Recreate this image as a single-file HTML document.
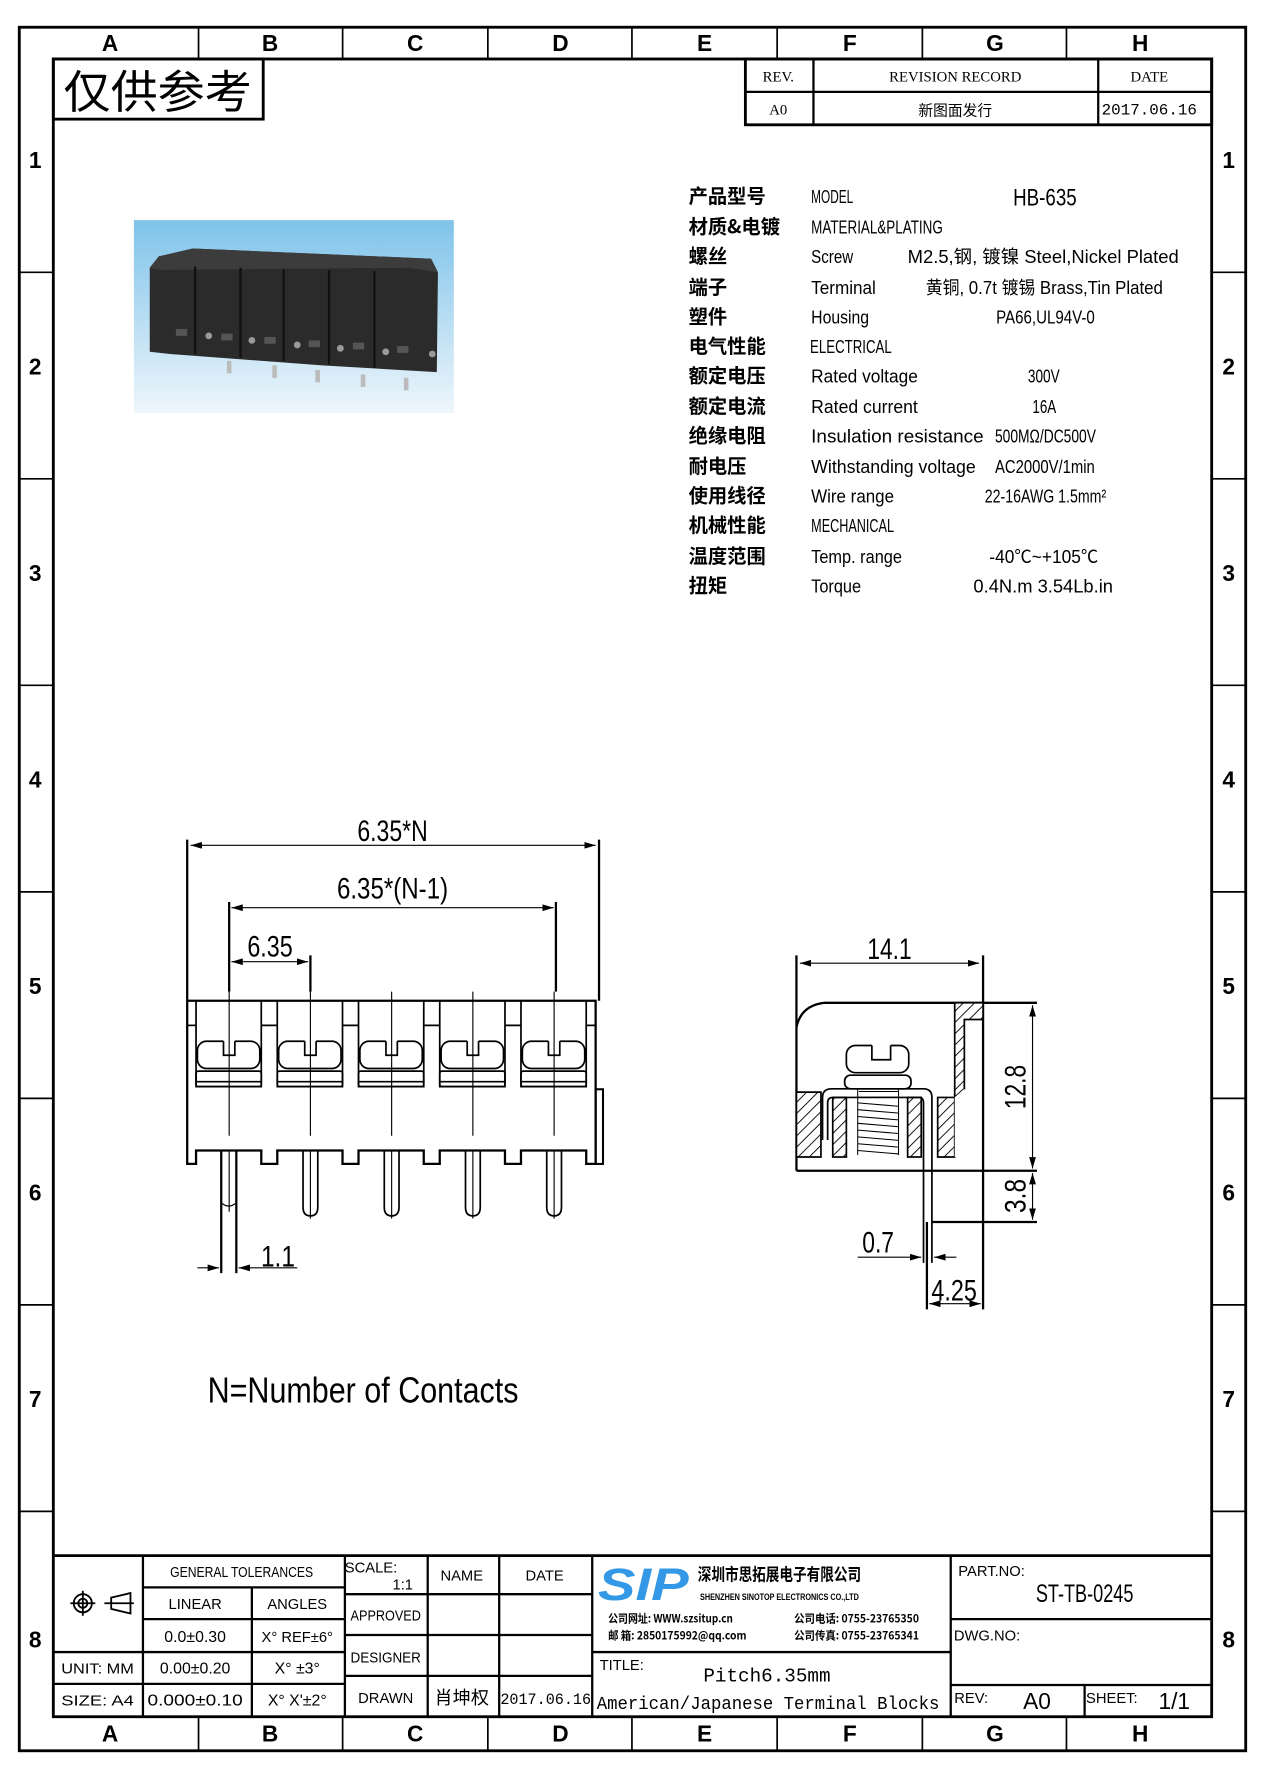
<!DOCTYPE html>
<html><head><meta charset="utf-8"><style>
html,body{margin:0;padding:0;background:#fff;}
svg{display:block;}
text{font-family:"Liberation Sans","Noto Sans CJK SC",sans-serif;fill:#000;}
.c{font-family:"Noto Sans CJK SC","WenQuanYi Zen Hei",sans-serif;font-weight:bold;}
.m{font-family:"Liberation Mono","Noto Sans CJK SC",monospace;}
</style></head><body>
<svg width="1265" height="1778" viewBox="0 0 1115 1567" preserveAspectRatio="none" xmlns="http://www.w3.org/2000/svg">
<defs>
<marker id="a" viewBox="0 0 10 6" refX="10" refY="3" markerWidth="10" markerHeight="6" orient="auto-start-reverse" markerUnits="userSpaceOnUse"><path d="M0,0 L10,3 L0,6z" fill="#000"/></marker>
<pattern id="h" patternUnits="userSpaceOnUse" width="7" height="7" patternTransform="rotate(45)"><rect width="7" height="7" fill="#fff"/><line x1="0" y1="0" x2="0" y2="7" stroke="#000" stroke-width="1.6"/></pattern>
<linearGradient id="bg" x1="0" y1="0" x2="0" y2="1"><stop offset="0" stop-color="#7fc3ea"/><stop offset="1" stop-color="#eef6fb"/></linearGradient>
</defs>
<g fill="none" stroke="#000">
<!-- frame -->
<rect x="17" y="24" width="1081" height="1519" stroke-width="2.5"/>
<rect x="47" y="52" width="1021" height="1461" stroke-width="2.5"/>
<line x1="47" y1="52" x2="1068" y2="52" stroke-width="2"/>
<g stroke-width="1.5">
<line x1="175" y1="24" x2="175" y2="52"/><line x1="302" y1="24" x2="302" y2="52"/><line x1="430" y1="24" x2="430" y2="52"/><line x1="557" y1="24" x2="557" y2="52"/><line x1="685" y1="24" x2="685" y2="52"/><line x1="813" y1="24" x2="813" y2="52"/><line x1="940" y1="24" x2="940" y2="52"/>
<line x1="175" y1="1513" x2="175" y2="1543"/><line x1="302" y1="1513" x2="302" y2="1543"/><line x1="430" y1="1513" x2="430" y2="1543"/><line x1="557" y1="1513" x2="557" y2="1543"/><line x1="685" y1="1513" x2="685" y2="1543"/><line x1="813" y1="1513" x2="813" y2="1543"/><line x1="940" y1="1513" x2="940" y2="1543"/>
<line x1="17" y1="240" x2="47" y2="240"/><line x1="17" y1="422" x2="47" y2="422"/><line x1="17" y1="604" x2="47" y2="604"/><line x1="17" y1="786" x2="47" y2="786"/><line x1="17" y1="968" x2="47" y2="968"/><line x1="17" y1="1150" x2="47" y2="1150"/><line x1="17" y1="1332" x2="47" y2="1332"/>
<line x1="1068" y1="240" x2="1098" y2="240"/><line x1="1068" y1="422" x2="1098" y2="422"/><line x1="1068" y1="604" x2="1098" y2="604"/><line x1="1068" y1="786" x2="1098" y2="786"/><line x1="1068" y1="968" x2="1098" y2="968"/><line x1="1068" y1="1150" x2="1098" y2="1150"/><line x1="1068" y1="1332" x2="1098" y2="1332"/>
</g>
<!-- top-left box -->
<rect x="47" y="52" width="185" height="53" stroke-width="2.5"/>
<!-- revision table -->
<rect x="657" y="52" width="411" height="58" stroke-width="2.5"/>
<line x1="657" y1="81" x2="1068" y2="81" stroke-width="2"/>
<line x1="717" y1="52" x2="717" y2="110" stroke-width="2"/>
<line x1="968" y1="52" x2="968" y2="110" stroke-width="2"/>
</g>
<!-- letters/numbers -->
<g font-size="20" font-weight="bold" text-anchor="middle">
<text x="97" y="45">A</text><text x="238" y="45">B</text><text x="366" y="45">C</text><text x="494" y="45">D</text><text x="621" y="45">E</text><text x="749" y="45">F</text><text x="877" y="45">G</text><text x="1005" y="45">H</text>
<text x="97" y="1535">A</text><text x="238" y="1535">B</text><text x="366" y="1535">C</text><text x="494" y="1535">D</text><text x="621" y="1535">E</text><text x="749" y="1535">F</text><text x="877" y="1535">G</text><text x="1005" y="1535">H</text>
<text x="31" y="148">1</text><text x="31" y="330">2</text><text x="31" y="512">3</text><text x="31" y="694">4</text><text x="31" y="876">5</text><text x="31" y="1058">6</text><text x="31" y="1240">7</text><text x="31" y="1452">8</text>
<text x="1083" y="148">1</text><text x="1083" y="330">2</text><text x="1083" y="512">3</text><text x="1083" y="694">4</text><text x="1083" y="876">5</text><text x="1083" y="1058">6</text><text x="1083" y="1240">7</text><text x="1083" y="1452">8</text>
</g>
<text x="56" y="95" font-size="40" class="c" style="font-weight:normal" textLength="166" lengthAdjust="spacingAndGlyphs">仅供参考</text>
<g font-size="13" text-anchor="middle" font-family="Liberation Serif">
<text x="686" y="72" style="font-family:'Liberation Serif'">REV.</text>
<text x="842" y="72" style="font-family:'Liberation Serif'">REVISION RECORD</text>
<text x="1013" y="72" style="font-family:'Liberation Serif'">DATE</text>
<text x="686" y="101" style="font-family:'Liberation Serif'">A0</text>
<text x="842" y="102" class="c" style="font-weight:normal">新图面发行</text>
<text x="1013" y="101" class="m" font-size="14">2017.06.16</text>
</g>
<!-- photo -->
<rect x="118" y="194" width="282" height="170" fill="url(#bg)"/>
<g>
<polygon points="132,236 140,226 170,219 380,228 386,240 385,328 284,322 150,312 132,310" fill="#2b2b2b"/>
<polygon points="132,236 140,226 170,219 380,228 386,240 360,236 140,238" fill="#3c3c3c"/>
<g fill="#555"><rect x="155" y="290" width="10" height="6"/><rect x="195" y="294" width="10" height="6"/><rect x="233" y="297" width="10" height="6"/><rect x="272" y="300" width="10" height="6"/><rect x="311" y="302" width="10" height="6"/><rect x="350" y="305" width="10" height="6"/></g>
<g fill="#999"><circle cx="184" cy="296" r="3"/><circle cx="222" cy="300" r="3"/><circle cx="262" cy="304" r="3"/><circle cx="300" cy="307" r="3"/><circle cx="340" cy="310" r="3"/><circle cx="381" cy="312" r="3"/></g>
<g stroke="#111" stroke-width="2"><line x1="172" y1="235" x2="172" y2="312"/><line x1="212" y1="236" x2="212" y2="315"/><line x1="250" y1="237" x2="250" y2="318"/><line x1="290" y1="238" x2="290" y2="321"/><line x1="330" y1="239" x2="330" y2="324"/></g>
<g fill="#bbb"><rect x="200" y="318" width="4" height="11"/><rect x="240" y="322" width="4" height="11"/><rect x="278" y="326" width="4" height="11"/><rect x="318" y="330" width="4" height="11"/><rect x="356" y="333" width="4" height="11"/></g>
</g>
<!-- spec table -->
<g font-size="17" class="c" style="font-weight:normal">
<text x="607" y="179" class="c">产品型号</text>
<text x="607" y="206" class="c">材质&amp;电镀</text>
<text x="607" y="232" class="c">螺丝</text>
<text x="607" y="259" class="c">端子</text>
<text x="607" y="285" class="c">塑件</text>
<text x="607" y="311" class="c">电气性能</text>
<text x="607" y="337" class="c">额定电压</text>
<text x="607" y="364" class="c">额定电流</text>
<text x="607" y="390" class="c">绝缘电阻</text>
<text x="607" y="417" class="c">耐电压</text>
<text x="607" y="443" class="c">使用线径</text>
<text x="607" y="469" class="c">机械性能</text>
<text x="607" y="496" class="c">温度范围</text>
<text x="607" y="522" class="c">扭矩</text>
</g>
<g font-size="16" style="font-family:'Liberation Serif'" lengthAdjust="spacingAndGlyphs">
<text x="715" y="179" textLength="37" lengthAdjust="spacingAndGlyphs">MODEL</text>
<text x="893" y="181" font-size="21" textLength="56" lengthAdjust="spacingAndGlyphs">HB-635</text>
<text x="715" y="206" textLength="116" lengthAdjust="spacingAndGlyphs">MATERIAL&amp;PLATING</text>
<text x="715" y="232" textLength="37" lengthAdjust="spacingAndGlyphs">Screw</text>
<text x="800" y="232" textLength="239" lengthAdjust="spacingAndGlyphs">M2.5,钢, 镀镍 Steel,Nickel Plated</text>
<text x="715" y="259" textLength="57" lengthAdjust="spacingAndGlyphs">Terminal</text>
<text x="816" y="259" textLength="209" lengthAdjust="spacingAndGlyphs">黄铜, 0.7t 镀锡 Brass,Tin Plated</text>
<text x="715" y="285" textLength="51" lengthAdjust="spacingAndGlyphs">Housing</text>
<text x="878" y="285" textLength="87" lengthAdjust="spacingAndGlyphs">PA66,UL94V-0</text>
<text x="714" y="311" textLength="72" lengthAdjust="spacingAndGlyphs">ELECTRICAL</text>
<text x="715" y="337" textLength="94" lengthAdjust="spacingAndGlyphs">Rated voltage</text>
<text x="906" y="337" textLength="28" lengthAdjust="spacingAndGlyphs">300V</text>
<text x="715" y="364" textLength="94" lengthAdjust="spacingAndGlyphs">Rated current</text>
<text x="910" y="364" textLength="21" lengthAdjust="spacingAndGlyphs">16A</text>
<text x="715" y="390" textLength="152" lengthAdjust="spacingAndGlyphs">Insulation resistance</text>
<text x="877" y="390" textLength="89" lengthAdjust="spacingAndGlyphs">500MΩ/DC500V</text>
<text x="715" y="417" textLength="145" lengthAdjust="spacingAndGlyphs">Withstanding voltage</text>
<text x="877" y="417" textLength="88" lengthAdjust="spacingAndGlyphs">AC2000V/1min</text>
<text x="715" y="443" textLength="73" lengthAdjust="spacingAndGlyphs">Wire range</text>
<text x="868" y="443" textLength="107" lengthAdjust="spacingAndGlyphs">22-16AWG 1.5mm²</text>
<text x="715" y="469" textLength="73" lengthAdjust="spacingAndGlyphs">MECHANICAL</text>
<text x="715" y="496" textLength="80" lengthAdjust="spacingAndGlyphs">Temp. range</text>
<text x="872" y="496" textLength="96" lengthAdjust="spacingAndGlyphs">-40℃~+105℃</text>
<text x="715" y="522" textLength="44" lengthAdjust="spacingAndGlyphs">Torque</text>
<text x="858" y="522" textLength="123" lengthAdjust="spacingAndGlyphs">0.4N.m  3.54Lb.in</text>
</g>
<!-- front view -->
<g fill="none" stroke="#000" stroke-width="1.4">
<line x1="165" y1="740" x2="165" y2="882" stroke-width="2"/>
<line x1="528" y1="740" x2="528" y2="882" stroke-width="2"/>
<line x1="168" y1="745" x2="525" y2="745" stroke-width="1" marker-start="url(#a)" marker-end="url(#a)"/>
<line x1="202" y1="795" x2="202" y2="874" stroke-width="2"/>
<line x1="490" y1="795" x2="490" y2="874" stroke-width="2"/>
<line x1="204" y1="800" x2="488" y2="800" stroke-width="1" marker-start="url(#a)" marker-end="url(#a)"/>
<line x1="273.6" y1="842" x2="273.6" y2="874" stroke-width="2"/>
<line x1="204" y1="847.6" x2="271.6" y2="847.6" stroke-width="1" marker-start="url(#a)" marker-end="url(#a)"/>
<path d="M165,882 H525 V1025.8 H516.7 V1014 H459.2 V1025.8 H445.1 V1014 H387.6 V1025.8 H373.5 V1014 H316 V1025.8 H301.9 V1014 H244.4 V1025.8 H230.3 V1014 H172.8 V1025.8 H165 Z" stroke-width="2"/>
<rect x="525" y="960" width="6.5" height="65.8" stroke-width="1.8"/>
<g id="cells"></g>
</g>
<g fill="none" stroke="#000" stroke-width="1.5">
<!-- cells generated manually -->
<g transform="translate(202,0)"><path d="M-29.2,882 V957.7 H28.3 V882"/><rect x="-28" y="917.7" width="55" height="24" rx="8"/><line x1="-5" y1="917.7" x2="5" y2="917.7" stroke="#fff" stroke-width="3"/><path d="M-5,917.7 V930 H5 V917.7"/><rect x="-29.2" y="944" width="57.5" height="13.7" rx="2"/><line x1="-29.2" y1="953.3" x2="28.3" y2="953.3"/><line x1="0" y1="874" x2="0" y2="1001" stroke-width="1"/></g>
<g transform="translate(273.6,0)"><path d="M-29.2,882 V957.7 H28.3 V882"/><rect x="-28" y="917.7" width="55" height="24" rx="8"/><line x1="-5" y1="917.7" x2="5" y2="917.7" stroke="#fff" stroke-width="3"/><path d="M-5,917.7 V930 H5 V917.7"/><rect x="-29.2" y="944" width="57.5" height="13.7" rx="2"/><line x1="-29.2" y1="953.3" x2="28.3" y2="953.3"/><line x1="0" y1="874" x2="0" y2="1001" stroke-width="1"/><path d="M-6.5,1014 V1064 Q-6.5,1071.6 0,1071.6 Q6.5,1071.6 6.5,1064 V1014"/><line x1="0" y1="1014" x2="0" y2="1074" stroke-width="1"/></g>
<g transform="translate(345.2,0)"><path d="M-29.2,882 V957.7 H28.3 V882"/><rect x="-28" y="917.7" width="55" height="24" rx="8"/><line x1="-5" y1="917.7" x2="5" y2="917.7" stroke="#fff" stroke-width="3"/><path d="M-5,917.7 V930 H5 V917.7"/><rect x="-29.2" y="944" width="57.5" height="13.7" rx="2"/><line x1="-29.2" y1="953.3" x2="28.3" y2="953.3"/><line x1="0" y1="874" x2="0" y2="1001" stroke-width="1"/><path d="M-6.5,1014 V1064 Q-6.5,1071.6 0,1071.6 Q6.5,1071.6 6.5,1064 V1014"/><line x1="0" y1="1014" x2="0" y2="1074" stroke-width="1"/></g>
<g transform="translate(416.8,0)"><path d="M-29.2,882 V957.7 H28.3 V882"/><rect x="-28" y="917.7" width="55" height="24" rx="8"/><line x1="-5" y1="917.7" x2="5" y2="917.7" stroke="#fff" stroke-width="3"/><path d="M-5,917.7 V930 H5 V917.7"/><rect x="-29.2" y="944" width="57.5" height="13.7" rx="2"/><line x1="-29.2" y1="953.3" x2="28.3" y2="953.3"/><line x1="0" y1="874" x2="0" y2="1001" stroke-width="1"/><path d="M-6.5,1014 V1064 Q-6.5,1071.6 0,1071.6 Q6.5,1071.6 6.5,1064 V1014"/><line x1="0" y1="1014" x2="0" y2="1074" stroke-width="1"/></g>
<g transform="translate(488.4,0)"><path d="M-29.2,882 V957.7 H28.3 V882"/><rect x="-28" y="917.7" width="55" height="24" rx="8"/><line x1="-5" y1="917.7" x2="5" y2="917.7" stroke="#fff" stroke-width="3"/><path d="M-5,917.7 V930 H5 V917.7"/><rect x="-29.2" y="944" width="57.5" height="13.7" rx="2"/><line x1="-29.2" y1="953.3" x2="28.3" y2="953.3"/><line x1="0" y1="874" x2="0" y2="1001" stroke-width="1"/><path d="M-6.5,1014 V1064 Q-6.5,1071.6 0,1071.6 Q6.5,1071.6 6.5,1064 V1014"/><line x1="0" y1="1014" x2="0" y2="1074" stroke-width="1"/></g>
<!-- gap lines -->
<line x1="165" y1="903.7" x2="172.8" y2="903.7"/><line x1="230.3" y1="903.7" x2="244.4" y2="903.7"/><line x1="301.9" y1="903.7" x2="316" y2="903.7"/><line x1="373.5" y1="903.7" x2="387.6" y2="903.7"/><line x1="445.1" y1="903.7" x2="459.2" y2="903.7"/><line x1="516.7" y1="903.7" x2="525" y2="903.7"/>
<!-- pin 1 -->
<line x1="195" y1="1014" x2="195" y2="1122" stroke-width="2"/><line x1="208.3" y1="1014" x2="208.3" y2="1122" stroke-width="2"/>
<path d="M195,1060 Q201.6,1066 208.3,1060" stroke-width="1"/>
<line x1="202" y1="1014" x2="202" y2="1068" stroke-width="1"/>
<line x1="174" y1="1117.4" x2="193" y2="1117.4" stroke-width="1" marker-end="url(#a)"/>
<line x1="262" y1="1117.4" x2="210.3" y2="1117.4" stroke-width="1" marker-end="url(#a)"/>
</g>
<g font-size="26" text-anchor="middle" style="font-family:'Liberation Serif'">
<text x="346" y="741" textLength="62" lengthAdjust="spacingAndGlyphs">6.35*N</text>
<text x="346" y="792" textLength="98" lengthAdjust="spacingAndGlyphs">6.35*(N-1)</text>
<text x="238" y="843" textLength="40" lengthAdjust="spacingAndGlyphs">6.35</text>
<text x="245" y="1116" textLength="30" lengthAdjust="spacingAndGlyphs">1.1</text>
<text x="320" y="1236" font-size="32" textLength="274" lengthAdjust="spacingAndGlyphs">N=Number of Contacts</text>
</g>
<!-- side view -->
<g fill="none" stroke="#000" stroke-width="1.5">
<line x1="702" y1="842" x2="702" y2="905" stroke-width="2"/>
<line x1="866.5" y1="842" x2="866.5" y2="1154" stroke-width="2"/>
<line x1="705" y1="848.9" x2="863" y2="848.9" stroke-width="1" marker-start="url(#a)" marker-end="url(#a)"/>
<path d="M702,905.5 Q706,886 727,883.8 H866.5" stroke-width="2"/>
<line x1="702" y1="905.5" x2="702" y2="1031.8" stroke-width="2"/>
<line x1="702" y1="1031.8" x2="914" y2="1031.8" stroke-width="2"/>
<line x1="866.5" y1="883.8" x2="914" y2="883.8" stroke-width="2"/>
<polygon points="841.5,883.8 866.5,883.8 866.5,898.5 850,898.5 850,959.5 841.5,967" fill="url(#h)"/>
<polygon points="702,962.5 723.6,962.5 723.6,1019.7 702,1019.7" fill="url(#h)"/>
<rect x="734" y="967.2" width="12" height="52.5" fill="url(#h)"/>
<rect x="800" y="967.2" width="12" height="52.5" fill="url(#h)"/>
<polygon points="826.5,967.2 841.5,967.2 841.5,1019.7 826.5,1019.7" fill="url(#h)"/>
<polygon points="850,959.5 841.5,967 841.5,1019.7 850,1019.7" fill="#fff" stroke="none"/>
<rect x="746" y="921.4" width="55" height="24" rx="8"/>
<line x1="768.5" y1="921.4" x2="785" y2="921.4" stroke="#fff" stroke-width="3"/>
<path d="M768.5,921.4 V934 H785 V921.4"/>
<rect x="744.5" y="947.6" width="58.5" height="12" rx="5"/>
<path d="M725,1004.7 V967.2 Q725,959.6 733,959.6 H814 Q821.4,959.6 821.4,967.2 V1077"/>
<path d="M729.5,1004.7 V972 Q729.5,967.2 734,967.2 H810 Q814,967.2 814,972 V1077"/>
<g stroke-width="0.9"><path d="M757,962 h35 M757,967 h35 M756,972 l36,3 M756,978 l36,3 M756,984 l36,3 M756,990 l36,3 M756,996 l36,3 M756,1002 l36,3 M756,1008 l36,3 M756,1014 l36,3"/><line x1="756" y1="960" x2="756" y2="1018"/><line x1="792" y1="960" x2="792" y2="1018"/></g>
<line x1="910.1" y1="886" x2="910.1" y2="1029.8" stroke-width="1" marker-start="url(#a)" marker-end="url(#a)"/>
<line x1="821.4" y1="1077" x2="914" y2="1077" stroke-width="2"/>
<line x1="910.1" y1="1033.8" x2="910.1" y2="1075" stroke-width="1" marker-start="url(#a)" marker-end="url(#a)"/>
<line x1="814" y1="1077" x2="814" y2="1113" stroke-width="1.5"/>
<line x1="817" y1="1077" x2="817" y2="1154" stroke-width="2"/>
<line x1="821.4" y1="1077" x2="821.4" y2="1113" stroke-width="1.5"/>
<line x1="756" y1="1108" x2="812" y2="1108" stroke-width="1" marker-end="url(#a)"/>
<line x1="843" y1="1108" x2="823.4" y2="1108" stroke-width="1" marker-end="url(#a)"/>
<line x1="819" y1="1149" x2="864.5" y2="1149" stroke-width="1" marker-start="url(#a)" marker-end="url(#a)"/>
</g>
<g font-size="26" text-anchor="middle" style="font-family:'Liberation Serif'">
<text x="784" y="845" textLength="39" lengthAdjust="spacingAndGlyphs">14.1</text>
<text x="774" y="1104" textLength="28" lengthAdjust="spacingAndGlyphs">0.7</text>
<text x="841" y="1146" textLength="40" lengthAdjust="spacingAndGlyphs">4.25</text>
<text transform="translate(904,958) rotate(-90)" textLength="39" lengthAdjust="spacingAndGlyphs">12.8</text>
<text transform="translate(904,1054) rotate(-90)" textLength="30" lengthAdjust="spacingAndGlyphs">3.8</text>
</g>
<!-- title block -->
<g fill="none" stroke="#000" stroke-width="2">
<line x1="47" y1="1371" x2="1068" y2="1371" stroke-width="2.5"/>
<line x1="126" y1="1371" x2="126" y2="1513"/>
<line x1="47" y1="1456" x2="126" y2="1456"/>
<line x1="47" y1="1484" x2="304" y2="1484"/>
<line x1="126" y1="1399" x2="304" y2="1399"/>
<line x1="126" y1="1427" x2="304" y2="1427"/>
<line x1="126" y1="1456" x2="304" y2="1456"/>
<line x1="222" y1="1399" x2="222" y2="1513"/>
<line x1="304" y1="1371" x2="304" y2="1513"/>
<line x1="377" y1="1371" x2="377" y2="1513"/>
<line x1="440" y1="1371" x2="440" y2="1513"/>
<line x1="304" y1="1405" x2="522" y2="1405"/>
<line x1="304" y1="1441" x2="522" y2="1441"/>
<line x1="304" y1="1477" x2="522" y2="1477"/>
<line x1="522" y1="1371" x2="522" y2="1513"/>
<line x1="522" y1="1456" x2="838" y2="1456"/>
<line x1="838" y1="1371" x2="838" y2="1513"/>
<line x1="838" y1="1427" x2="1068" y2="1427"/>
<line x1="838" y1="1485" x2="1068" y2="1485"/>
<line x1="956" y1="1485" x2="956" y2="1513"/>
</g>
<g fill="none" stroke="#000" stroke-width="1.6">
<circle cx="73" cy="1413" r="8"/><circle cx="73" cy="1413" r="4"/><line x1="62" y1="1413" x2="84" y2="1413"/><line x1="73" y1="1402" x2="73" y2="1424"/>
<path d="M115,1404 L98,1408 V1418 L115,1422 Z"/><line x1="92" y1="1413" x2="118" y2="1413"/>
</g>
<g font-size="13" style="font-family:'Liberation Serif'" text-anchor="middle">
<text x="213" y="1390" textLength="126" lengthAdjust="spacingAndGlyphs">GENERAL TOLERANCES</text>
<text x="172" y="1418">LINEAR</text>
<text x="262" y="1418">ANGLES</text>
<text x="172" y="1447" font-size="14">0.0±0.30</text>
<text x="262" y="1447" font-size="13">X° REF±6°</text>
<text x="86" y="1475" textLength="64" lengthAdjust="spacingAndGlyphs">UNIT: MM</text>
<text x="172" y="1475" font-size="14">0.00±0.20</text>
<text x="262" y="1475" font-size="14">X° ±3°</text>
<text x="86" y="1503" textLength="64" lengthAdjust="spacingAndGlyphs">SIZE: A4</text>
<text x="172" y="1503" font-size="14" textLength="84" lengthAdjust="spacingAndGlyphs">0.000±0.10</text>
<text x="262" y="1503" font-size="14">X° X'±2°</text>
<text x="327" y="1386">SCALE:</text>
<text x="355" y="1401">1:1</text>
<text x="407" y="1393">NAME</text>
<text x="480" y="1393">DATE</text>
<text x="340" y="1428" textLength="62" lengthAdjust="spacingAndGlyphs">APPROVED</text>
<text x="340" y="1465" textLength="62" lengthAdjust="spacingAndGlyphs">DESIGNER</text>
<text x="340" y="1501">DRAWN</text>
<text x="407" y="1502" class="c" font-size="16" style="font-weight:normal">肖坤权</text>
<text x="481" y="1502" class="m" font-size="14" textLength="80" lengthAdjust="spacingAndGlyphs">2017.06.16</text>
<text x="548" y="1472">TITLE:</text>
<text x="676" y="1482" class="m" font-size="17">Pitch6.35mm</text>
<text x="677" y="1506" class="m" font-size="16" textLength="302" lengthAdjust="spacingAndGlyphs">American/Japanese Terminal Blocks</text>
<text x="874" y="1389">PART.NO:</text>
<text x="956" y="1412" font-size="22" textLength="86" lengthAdjust="spacingAndGlyphs">ST-TB-0245</text>
<text x="870" y="1446">DWG.NO:</text>
<text x="856" y="1501">REV:</text>
<text x="914" y="1506" font-size="20">A0</text>
<text x="980" y="1501">SHEET:</text>
<text x="1035" y="1506" font-size="20">1/1</text>
</g>
<!-- logo -->
<text x="527" y="1410" font-size="40" font-weight="bold" font-style="italic" style="fill:#3399e6;font-family:'Liberation Sans'" textLength="80" lengthAdjust="spacingAndGlyphs">SIP</text>
<text x="615" y="1393" font-size="15" class="c" textLength="144" lengthAdjust="spacingAndGlyphs">深圳市思拓展电子有限公司</text>
<text x="617" y="1410" font-size="8" font-weight="bold" textLength="140" lengthAdjust="spacingAndGlyphs">SHENZHEN SINOTOP ELECTRONICS CO.,LTD</text>
<text x="536" y="1430" font-size="10" class="c" textLength="110" lengthAdjust="spacingAndGlyphs">公司网址: WWW.szsitup.cn</text>
<text x="536" y="1445" font-size="10" class="c" textLength="122" lengthAdjust="spacingAndGlyphs">邮    箱: 2850175992@qq.com</text>
<text x="700" y="1430" font-size="10" class="c" textLength="110" lengthAdjust="spacingAndGlyphs">公司电话: 0755-23765350</text>
<text x="700" y="1445" font-size="10" class="c" textLength="110" lengthAdjust="spacingAndGlyphs">公司传真: 0755-23765341</text>
</svg>
</body></html>
